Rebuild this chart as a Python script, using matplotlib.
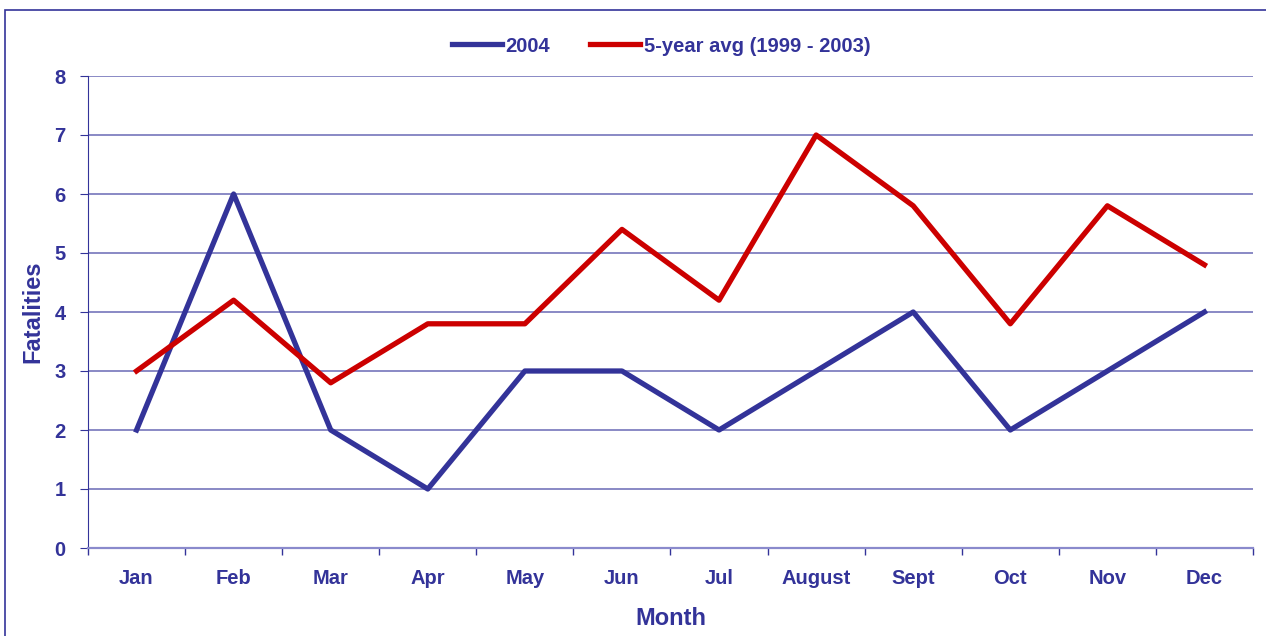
import matplotlib.pyplot as plt
from matplotlib.patches import Rectangle

months = ['Jan', 'Feb', 'Mar', 'Apr', 'May', 'Jun', 'Jul', 'August', 'Sept', 'Oct', 'Nov', 'Dec']
fat_2004 = [2, 6, 2, 1, 3, 3, 2, 3, 4, 2, 3, 4]
avg_5yr = [3, 4.2, 2.8, 3.8, 3.8, 5.4, 4.2, 7, 5.8, 3.8, 5.8, 4.8]

navy = '#333399'
red = '#CC0000'
grid_c = '#6a6ab5'

plt.rcParams['font.family'] = ['Liberation Sans', 'DejaVu Sans']
plt.rcParams['font.weight'] = 'bold'
plt.rcParams['axes.labelweight'] = 'bold'

fig = plt.figure(figsize=(12.66, 6.36), dpi=100)
ax = fig.add_axes([88 / 1266, 1 - 548 / 636, (1253 - 88) / 1266, (548 - 76) / 636])

# outer chart border
fig.patches.append(Rectangle((5 / 1266, -0.05), 1.0, (636 - 10) / 636 + 0.05,
                             transform=fig.transFigure, fill=False,
                             edgecolor=navy, linewidth=1.2))

x = list(range(len(months)))
ax.plot(x, fat_2004, color=navy, linewidth=3.8, label='2004')
ax.plot(x, avg_5yr, color=red, linewidth=3.8, label='5-year avg (1999 - 2003)')

ax.set_xlim(-0.5, 11.5)
ax.set_ylim(0, 8)
ax.set_yticks(range(9))
ax.yaxis.grid(True, color=grid_c, linewidth=1.1)
ax.set_axisbelow(True)

ax.set_xticks([i - 0.5 for i in range(13)])
ax.set_xticklabels([])
ax.set_xticks(x, minor=True)
ax.set_xticklabels(months, minor=True)
ax.tick_params(axis='x', which='minor', length=0, pad=15, labelsize=14.5, labelcolor=navy)
ax.tick_params(axis='x', which='major', length=5, direction='out', color=navy, width=1)
ax.tick_params(axis='y', length=6, direction='out', color=navy, labelsize=14.5, labelcolor=navy, pad=10)

for s in ['top', 'right']:
    ax.spines[s].set_visible(False)
ax.spines['left'].set_color(navy)
ax.spines['bottom'].set_color('#8a8acc')
ax.spines['bottom'].set_linewidth(1.6)

ax.set_xlabel('Month', fontsize=17, color=navy, labelpad=14)
ax.set_ylabel('Fatalities', fontsize=17, color=navy, labelpad=7)

leg = fig.legend(loc='center', bbox_to_anchor=(661 / 1266, 1 - 46 / 636), ncol=2,
                 frameon=False, fontsize=14.5, handlelength=2.5, handletextpad=0.15,
                 columnspacing=2.0)
for t in leg.get_texts():
    t.set_color(navy)

fig.savefig('out.png', dpi=100)
